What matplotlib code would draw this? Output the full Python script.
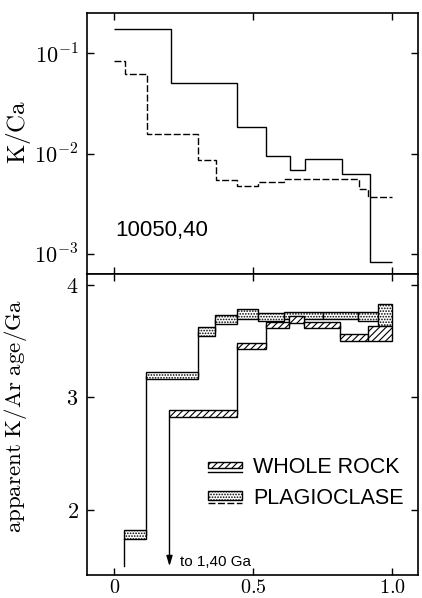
import matplotlib
matplotlib.use("Agg")
import matplotlib.pyplot as plt
from matplotlib.patches import Rectangle
from matplotlib.lines import Line2D
import numpy as np

# ---------------- data ----------------
# Top panel: K/Ca release spectra (fraction of 39Ar released)
kca_wr_edges = [0.0, 0.203, 0.442, 0.547, 0.633, 0.685, 0.818, 0.918, 1.0]
kca_wr_values = [0.175, 0.0506, 0.0185, 0.0094, 0.0068, 0.0089, 0.0063, 0.00084]
kca_pl_edges = [0.0, 0.039, 0.117, 0.302, 0.366, 0.44, 0.517, 0.61, 0.879, 0.912, 1.0]
kca_pl_values = [0.083, 0.062, 0.0155, 0.0087, 0.0055, 0.0047, 0.0052, 0.0056, 0.0044, 0.0037]

# Bottom panel: apparent K/Ar ages (Ga), boxes low/high
age_pl_edges = [0.033, 0.115, 0.300, 0.363, 0.440, 0.515, 0.610, 0.750, 0.876, 0.948, 1.0]
age_pl_low = [1.74, 3.16, 3.54, 3.65, 3.69, 3.68, 3.69, 3.69, 3.68, 3.63]
age_pl_high = [1.82, 3.22, 3.62, 3.73, 3.78, 3.75, 3.76, 3.76, 3.76, 3.83]
age_wr_edges = [0.198, 0.440, 0.545, 0.628, 0.682, 0.812, 0.912, 1.0]
age_wr_low = [2.82, 3.43, 3.61, 3.66, 3.61, 3.50, 3.50]
age_wr_high = [2.89, 3.48, 3.67, 3.72, 3.67, 3.56, 3.63]
offscale_end = 1.50          # where the off-scale first steps are cut
wr_first_step_label = "to 1,40 Ga"

sample_label = "10050,40"
legend_labels = ["WHOLE ROCK", "PLAGIOCLASE"]

x_ticks = [0, 0.5, 1.0]
x_ticklabels = [r"$0$", r"$0.5$", r"$1.0$"]
kca_ticks = [1e-1, 1e-2, 1e-3]
kca_ticklabels = [r"$10^{-1}$", r"$10^{-2}$", r"$10^{-3}$"]
age_ticks = [2, 3, 4]
age_ticklabels = [r"$2$", r"$3$", r"$4$"]

# ---------------- style ----------------
plt.rcParams["mathtext.fontset"] = "cm"
plt.rcParams["hatch.linewidth"] = 0.8
SANS = ["Liberation Sans", "DejaVu Sans"]

fig = plt.figure(figsize=(4.22, 5.98), dpi=100)
ax1 = fig.add_axes([0.206, 0.541, 0.7845, 0.437])
ax2 = fig.add_axes([0.206, 0.0385, 0.7845, 0.5025])

xlim = (-0.099, 1.092)

for ax in (ax1, ax2):
    ax.set_xlim(*xlim)
    for sp in ax.spines.values():
        sp.set_linewidth(1.2)
    ax.tick_params(direction="in", top=True, right=True, length=5, width=1.0,
                   labelsize=16, pad=6)
    ax.set_xticks(x_ticks)

# ---- top panel ----
ax1.set_yscale("log")
ax1.set_ylim(6.25e-4, 0.25)
ax1.stairs(kca_wr_values, kca_wr_edges, color="black", lw=1.0, baseline=None)
ax1.stairs(kca_pl_values, kca_pl_edges, color="black", lw=1.0, baseline=None,
           linestyle=(0, (5, 1.8)))
ax1.set_yticks(kca_ticks)
ax1.set_yticklabels(kca_ticklabels)
ax1.minorticks_off()
ax1.tick_params(axis="y", which="minor", left=False, right=False)
ax1.set_xticklabels([])
ax1.set_ylabel(r"$\mathrm{K/Ca}$", fontsize=18)
ax1.yaxis.set_label_coords(-0.163, 0.545)
ax1.text(0.002, 1.73e-3, sample_label, fontsize=16, family=SANS,
         ha="left", va="center")

# ---- bottom panel ----
ax2.set_ylim(1.422, 4.089)
ax2.set_yticks(age_ticks)
ax2.set_yticklabels(age_ticklabels)
ax2.set_xticklabels(x_ticklabels)
ax2.tick_params(axis="x", pad=2, labelsize=14.5)
ax2.set_ylabel(r"$\mathrm{apparent\ K/Ar\ age/Ga}$", fontsize=16.5)
ax2.yaxis.set_label_coords(-0.176, 0.53)

pl_mid = [(a + b) / 2 for a, b in zip(age_pl_low, age_pl_high)]
wr_mid = [(a + b) / 2 for a, b in zip(age_wr_low, age_wr_high)]
ax2.stairs(pl_mid, age_pl_edges, color="black", lw=1.0, baseline=None, zorder=1)
ax2.stairs(wr_mid, age_wr_edges, color="black", lw=1.0, baseline=None, zorder=1)

# off-scale first steps
ax2.plot([age_pl_edges[0], age_pl_edges[0]], [offscale_end, age_pl_low[0]],
         color="black", lw=1.0, zorder=1)
ax2.annotate("", xy=(age_wr_edges[0], offscale_end),
             xytext=(age_wr_edges[0], age_wr_low[0]),
             arrowprops=dict(arrowstyle="-|>,head_length=0.6,head_width=0.18",
                             color="black", lw=1.0, shrinkA=0, shrinkB=0))
ax2.text(0.236, 1.533, wr_first_step_label, fontsize=11, family=SANS,
         ha="left", va="center")

for i in range(len(age_pl_low)):
    x0, x1 = age_pl_edges[i], age_pl_edges[i + 1]
    ax2.add_patch(Rectangle((x0, age_pl_low[i]), x1 - x0,
                            age_pl_high[i] - age_pl_low[i],
                            facecolor="white", edgecolor="black", lw=1.0,
                            hatch="......", zorder=2))
for i in range(len(age_wr_low)):
    x0, x1 = age_wr_edges[i], age_wr_edges[i + 1]
    ax2.add_patch(Rectangle((x0, age_wr_low[i]), x1 - x0,
                            age_wr_high[i] - age_wr_low[i],
                            facecolor="white", edgecolor="black", lw=1.0,
                            hatch="/////", zorder=3))

# legend (manual, axes coordinates)
T = ax2.transAxes
bx, bw = 0.3656, 0.1027
ax2.add_patch(Rectangle((bx, 0.355), bw, 0.022, transform=T, facecolor="white",
                        edgecolor="black", lw=1.0, hatch="/////", zorder=3))
ax2.add_line(Line2D([bx, bx + bw], [0.343, 0.343], transform=T, color="black", lw=1.0))
ax2.text(0.5015, 0.357, legend_labels[0], transform=T, fontsize=15.5, family=SANS,
         ha="left", va="center")
ax2.add_patch(Rectangle((bx, 0.250), bw, 0.028, transform=T, facecolor="white",
                        edgecolor="black", lw=1.0, hatch="......", zorder=3))
ax2.add_line(Line2D([bx, bx + bw], [0.240, 0.240], transform=T, color="black", lw=1.0,
                    linestyle=(0, (5, 1.8))))
ax2.text(0.5015, 0.256, legend_labels[1], transform=T, fontsize=15.5, family=SANS,
         ha="left", va="center")

fig.savefig("out.png", dpi=100)
